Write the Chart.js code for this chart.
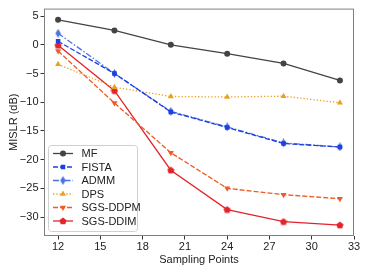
<!DOCTYPE html>
<html>
<head>
<meta charset="utf-8">
<script src="https://cdn.jsdelivr.net/npm/chart.js@4.4.1/dist/chart.umd.min.js"></script>
<style>
  html, body { margin: 0; padding: 0; background: #fff; }
  #wrap { width: 366px; height: 272px; }
</style>
</head>
<body>
<div id="wrap"><canvas id="c" width="366" height="272"></canvas></div>
<script>
// ====== Data ======
const samplingPoints = [12, 16, 20, 24, 28, 32];
const xTicks = [12, 15, 18, 21, 24, 27, 30, 33];
const yTicks = [-30, -25, -20, -15, -10, -5, 0, 5];

const mf      = [4.35, 2.5, 0.0, -1.55, -3.25, -6.2];
const fista   = [0.6, -5.0, -11.7, -14.4, -17.2, -17.8];
const admm    = [2.0, -5.0, -11.6, -14.3, -17.1, -17.8];
const dps     = [-3.4, -7.4, -9.0, -9.1, -8.95, -10.1];
const sgsDdpm = [-1.1, -10.15, -18.8, -25.0, -26.1, -26.8];
const sgsDdim = [-0.1, -8.0, -21.85, -28.7, -30.8, -31.4];

const FONT = "'Liberation Sans', Arial, sans-serif";
const FSIZE = 11;

// custom marker shapes (pentagon, thin diamond)
function makeMarker(kind, color, size) {
  const c = document.createElement("canvas");
  c.width = size; c.height = size;
  const g = c.getContext("2d");
  g.fillStyle = color;
  g.beginPath();
  const r = size / 2;
  if (kind === "pentagon") {
    for (let i = 0; i < 5; i++) {
      const a = -Math.PI / 2 + i * 2 * Math.PI / 5;
      const px = r + r * 0.95 * Math.cos(a), py = r + 0.3 + r * 0.95 * Math.sin(a);
      i ? g.lineTo(px, py) : g.moveTo(px, py);
    }
  } else {
    g.moveTo(r, 0); g.lineTo(r + r * 0.6, r); g.lineTo(r, size); g.lineTo(r - r * 0.6, r);
  }
  g.closePath();
  g.fill();
  return c;
}

const C_MF = "#444444", C_FISTA = "#1f3fe0", C_ADMM = "#4a72e0",
      C_DPS = "#eaa021", C_DDPM = "#f05a24", C_DDIM = "#e3242b";

const pentagon = makeMarker("pentagon", C_DDIM, 8);
const diamond = makeMarker("diamond", C_ADMM, 9);

function series(label, data, color, dash, style, extra) {
  return Object.assign({
    label,
    data: samplingPoints.map((x, i) => ({ x, y: data[i] })),
    borderColor: color,
    backgroundColor: color,
    borderWidth: 1.3,
    borderDash: dash,
    pointStyle: style,
    pointRadius: 3,
    pointBorderWidth: 0,
    tension: 0
  }, extra || {});
}

const datasets = [
  series("MF", mf, C_MF, [], "circle"),
  series("FISTA", fista, C_FISTA, [5, 2], "rect", { pointRadius: 3.2 }),
  series("ADMM", admm, C_ADMM, [6, 2, 1.5, 2], diamond),
  series("DPS", dps, C_DPS, [1.3, 2], "triangle", { pointRadius: 3.5 }),
  series("SGS-DDPM", sgsDdpm, C_DDPM, [5, 2], "triangle", { pointRadius: 3.5, pointRotation: 180 }),
  series("SGS-DDIM", sgsDdim, C_DDIM, [], pentagon)
];

// frame + in-plot legend
const framePlugin = {
  id: "frame",
  afterDatasetsDraw(chart) {
    const { ctx, chartArea: a } = chart;
    ctx.save();
    ctx.strokeStyle = "#808080";
    ctx.lineWidth = 1;
    ctx.strokeRect(a.left + 0.5, a.top + 0.5, a.right - a.left - 1, a.bottom - a.top - 1);

    // legend
    const bx = 48.5, by = 145.5, bw = 89, bh = 86, row = 13.5;
    ctx.fillStyle = "rgba(255,255,255,0.85)";
    ctx.strokeStyle = "#d0d0d0";
    ctx.beginPath();
    ctx.roundRect(bx, by, bw, bh, 3);
    ctx.fill();
    ctx.stroke();
    ctx.font = FSIZE + "px " + FONT;
    ctx.textBaseline = "middle";
    chart.data.datasets.forEach((ds, i) => {
      const y = 153.5 + i * row;
      ctx.strokeStyle = ds.borderColor;
      ctx.lineWidth = ds.borderWidth;
      ctx.setLineDash(ds.borderDash);
      ctx.beginPath();
      ctx.moveTo(53, y); ctx.lineTo(73, y);
      ctx.stroke();
      ctx.setLineDash([]);
      ctx.fillStyle = ds.backgroundColor;
      Chart.helpers.drawPoint(ctx, {
        pointStyle: ds.pointStyle, radius: ds.pointRadius,
        rotation: ds.pointRotation || 0, borderWidth: 0
      }, 63, y);
      ctx.fillStyle = "#222";
      ctx.fillText(ds.label, 81.5, y + 0.5);
    });
    ctx.restore();
  }
};

new Chart(document.getElementById("c"), {
  type: "line",
  data: { datasets },
  plugins: [framePlugin],
  options: {
    responsive: false,
    animation: false,
    layout: { padding: { left: 0, top: 5, right: 12, bottom: 0 } },
    plugins: { legend: { display: false }, tooltip: { enabled: false } },
    scales: {
      x: {
        type: "linear",
        min: 11, max: 33,
        afterBuildTicks: s => { s.ticks = xTicks.map(v => ({ value: v })); },
        afterFit: s => { s.height = 36; },
        grid: { drawOnChartArea: false, drawTicks: true, tickLength: 3.5, color: "#333" },
        border: { display: false },
        ticks: { color: "#222", font: { family: FONT, size: FSIZE }, padding: 1, maxRotation: 0, autoSkip: false },
        title: { display: true, text: "Sampling Points", color: "#222", font: { family: FONT, size: FSIZE }, padding: { top: 0, bottom: 5 } }
      },
      y: {
        type: "linear",
        min: -33.3, max: 6.3,
        afterBuildTicks: s => { s.ticks = yTicks.map(v => ({ value: v })); },
        afterFit: s => { s.width = 44; },
        grid: { drawOnChartArea: false, drawTicks: true, tickLength: 3.5, color: "#333" },
        border: { display: false },
        ticks: {
          color: "#222", font: { family: FONT, size: FSIZE }, padding: 2,
          callback: v => String(v).replace("-", "\u2212")
        },
        title: { display: true, text: "MISLR (dB)", color: "#222", font: { family: FONT, size: FSIZE }, padding: { top: 7, bottom: 0 } }
      }
    }
  }
});
</script>
</body>
</html>
